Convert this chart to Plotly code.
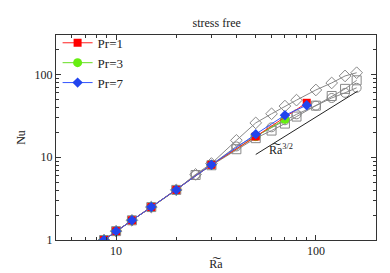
import plotly.graph_objects as go

# ---- data ----
ra_pr1 = [8.7, 10, 12, 15, 20, 30, 50, 90]
nu_pr1 = [1.0, 1.28, 1.73, 2.5, 4.03, 8.1, 17.8, 45.5]

ra_pr3 = [8.7, 10, 12, 15, 20, 30, 50, 70]
nu_pr3 = [1.0, 1.28, 1.73, 2.5, 4.03, 8.1, 17.8, 28.7]

ra_pr7 = [8.7, 10, 12, 15, 20, 30, 50, 70, 90]
nu_pr7 = [1.0, 1.28, 1.73, 2.5, 4.03, 8.1, 19.0, 32.2, 42.5]

ra_gray = [8.7, 10, 12, 15, 20, 25, 30, 40, 50, 60, 70, 80, 100, 120, 140, 160]
nu_gray_sq = [1.0, 1.28, 1.73, 2.5, 4.03, 6.1, 8.0, 12.5, 17.0, 21.0, 25.5, 31.0, 42.0, 55.0, 67.0, 85.0]
nu_gray_ci = [1.0, 1.28, 1.73, 2.5, 4.03, 6.1, 8.1, 13.5, 18.0, 23.0, 28.0, 33.0, 42.0, 52.0, 60.0, 69.0]
nu_gray_di = [1.0, 1.28, 1.73, 2.5, 4.03, 6.2, 8.4, 16.0, 26.0, 33.5, 41.5, 49.0, 65.0, 79.0, 96.0, 105.0]

guide_ra = [50, 162]
guide_nu0 = 10.8
guide_exp = 1.5
guide_nu = [guide_nu0 * (r / guide_ra[0]) ** guide_exp for r in guide_ra]

FONT = "Liberation Serif"
GRAY = "#888888"
TXT = "#222222"

fig = go.Figure()

for nu, sym in [(nu_gray_sq, "square-open"), (nu_gray_ci, "circle-open"), (nu_gray_di, "diamond-open")]:
    fig.add_trace(go.Scatter(
        x=ra_gray, y=nu, mode="lines+markers", showlegend=False,
        line=dict(color=GRAY, width=1),
        marker=dict(symbol=sym, size=9, color=GRAY, line=dict(width=1, color=GRAY)),
    ))

fig.add_trace(go.Scatter(
    x=ra_pr3, y=nu_pr3, mode="lines+markers", name="Pr=3", legendrank=2,
    line=dict(color="#66dd22", width=1),
    marker=dict(symbol="circle", size=9, color="#66ee11"),
))
fig.add_trace(go.Scatter(
    x=ra_pr1, y=nu_pr1, mode="lines+markers", name="Pr=1", legendrank=1,
    line=dict(color="#ff2020", width=1),
    marker=dict(symbol="square", size=8, color="#ff0000"),
))
fig.add_trace(go.Scatter(
    x=ra_pr7, y=nu_pr7, mode="lines+markers", name="Pr=7", legendrank=3,
    line=dict(color="#3355ff", width=1),
    marker=dict(symbol="diamond", size=8, color="#2244ee"),
))

fig.add_trace(go.Scatter(
    x=guide_ra, y=guide_nu, mode="lines", showlegend=False,
    line=dict(color=TXT, width=1),
))

fig.add_annotation(x=1.825, y=1.09, xref="x", yref="y", text="R\u0360a<sup>3/2</sup>",
                   showarrow=False, font=dict(family=FONT, size=12, color=TXT))

axis_common = dict(
    type="log", showgrid=False, zeroline=False, showline=True, mirror="allticks",
    linecolor="#333333", linewidth=1, ticks="inside", ticklen=5, tickcolor="#333333",
    tickfont=dict(family=FONT, size=12, color=TXT),
    minor=dict(ticks="inside", ticklen=3, tickcolor="#333333", dtick="D1", showgrid=False),
)

fig.update_layout(
    width=390, height=273,
    margin=dict(l=40, r=22, t=27, b=27),
    paper_bgcolor="white", plot_bgcolor="white",
    title=dict(text="stress free", x=0.535, xanchor="center", y=0.945, yanchor="middle",
               font=dict(family=FONT, size=12, color=TXT)),
    xaxis=dict(axis_common, range=[0.699, 2.301], tickvals=[10, 100], ticktext=["10", "100"],
               title=dict(text="R\u0360a", standoff=2, font=dict(family=FONT, size=12, color=TXT))),
    yaxis=dict(axis_common, range=[0, 2.477], tickvals=[1, 10, 100], ticktext=["1", "10", "100"],
               title=dict(text="Nu", standoff=6, font=dict(family=FONT, size=12, color=TXT))),
    legend=dict(x=0.005, y=1.035, xanchor="left", yanchor="top", bgcolor="rgba(0,0,0,0)",
                font=dict(family=FONT, size=13, color=TXT), tracegroupgap=0,
                itemwidth=30),
    showlegend=True,
)

fig.write_html("out.html")
